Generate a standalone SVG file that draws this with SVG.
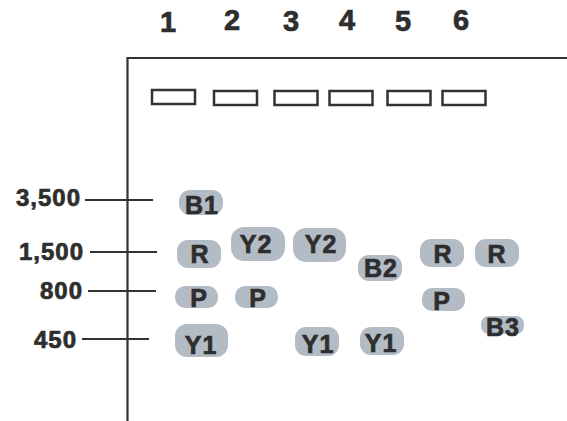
<svg xmlns="http://www.w3.org/2000/svg" width="567" height="421" viewBox="0 0 567 421">
<style>
.ln{stroke:#333;stroke-width:2.2;fill:none}
.well{stroke:#333;stroke-width:2.5;fill:#fff}
.band{fill:#b3bbc5}
.t{font-family:"Liberation Sans",Arial,sans-serif;font-weight:bold;fill:#2e2e2e;stroke:#2e2e2e;stroke-width:0.7}
.num{font-size:29px;text-anchor:middle}
.lab{font-size:24px;text-anchor:end;letter-spacing:1px}
.bt{font-size:25px;text-anchor:middle;letter-spacing:1px}
</style>
<rect width="567" height="421" fill="#fff"/>
<g id="lane-numbers">
<text class="t num" x="168" y="32">1</text>
<text class="t num" x="232" y="30">2</text>
<text class="t num" x="291" y="31">3</text>
<text class="t num" x="347" y="30">4</text>
<text class="t num" x="403" y="31">5</text>
<text class="t num" x="461" y="30">6</text>
</g>
<g id="gel-frame">
<path class="ln" d="M127.5 421 V58 H567" stroke-width="2.5"/>
</g>
<g id="wells">
<rect class="well" x="152" y="90" width="43" height="14"/>
<rect class="well" x="214" y="91" width="43" height="14"/>
<rect class="well" x="274.5" y="91" width="43" height="14"/>
<rect class="well" x="329.5" y="91" width="43" height="14"/>
<rect class="well" x="387.5" y="91" width="43" height="14"/>
<rect class="well" x="442.5" y="91" width="43" height="14"/>
</g>
<g id="markers">
<g id="m3500"><text class="t lab" x="81" y="206">3,500</text><line class="ln" x1="85" y1="200" x2="153" y2="200"/></g>
<g id="m1500"><text class="t lab" x="84" y="260">1,500</text><line class="ln" x1="90" y1="252" x2="157" y2="252"/></g>
<g id="m800"><text class="t lab" x="83" y="299">800</text><line class="ln" x1="88" y1="291" x2="156" y2="291"/></g>
<g id="m450"><text class="t lab" x="77" y="348">450</text><line class="ln" x1="82" y1="339" x2="149" y2="339"/></g>
</g>
<g id="bands">
<g id="l1-B1"><rect class="band" x="179" y="190" width="44" height="25" rx="11"/><text class="t bt" x="202" y="214">B1</text></g>
<g id="l1-R"><rect class="band" x="177" y="240" width="44" height="28" rx="11"/><text class="t bt" x="200" y="263">R</text></g>
<g id="l1-P"><rect class="band" x="175" y="286" width="43" height="22" rx="10"/><text class="t bt" x="199" y="307">P</text></g>
<g id="l1-Y1"><rect class="band" x="175" y="324" width="53" height="33" rx="12"/><text class="t bt" x="201" y="354">Y1</text></g>
<g id="l2-Y2"><rect class="band" x="231" y="227" width="54" height="34" rx="13"/><text class="t bt" x="256" y="253">Y2</text></g>
<g id="l2-P"><rect class="band" x="235" y="286" width="43" height="22" rx="10"/><text class="t bt" x="258" y="307">P</text></g>
<g id="l3-Y2"><rect class="band" x="293" y="228" width="53" height="34" rx="13"/><text class="t bt" x="321" y="253">Y2</text></g>
<g id="l3-Y1"><rect class="band" x="295" y="327" width="44" height="29" rx="11"/><text class="t bt" x="318" y="353">Y1</text></g>
<g id="l4-B2"><rect class="band" x="358" y="255" width="44" height="26" rx="11"/><text class="t bt" x="381" y="277">B2</text></g>
<g id="l4-Y1"><rect class="band" x="360" y="327" width="44" height="28" rx="11"/><text class="t bt" x="381" y="352">Y1</text></g>
<g id="l5-R"><rect class="band" x="420" y="239" width="44" height="28" rx="11"/><text class="t bt" x="443" y="263">R</text></g>
<g id="l5-P"><rect class="band" x="422" y="288" width="43" height="23" rx="10"/><text class="t bt" x="442" y="310">P</text></g>
<g id="l6-R"><rect class="band" x="475" y="239" width="44" height="28" rx="11"/><text class="t bt" x="497" y="263">R</text></g>
<g id="l6-B3"><rect class="band" x="481" y="316" width="43" height="18" rx="8"/><text class="t bt" x="503" y="336">B3</text></g>
</g>
</svg>
